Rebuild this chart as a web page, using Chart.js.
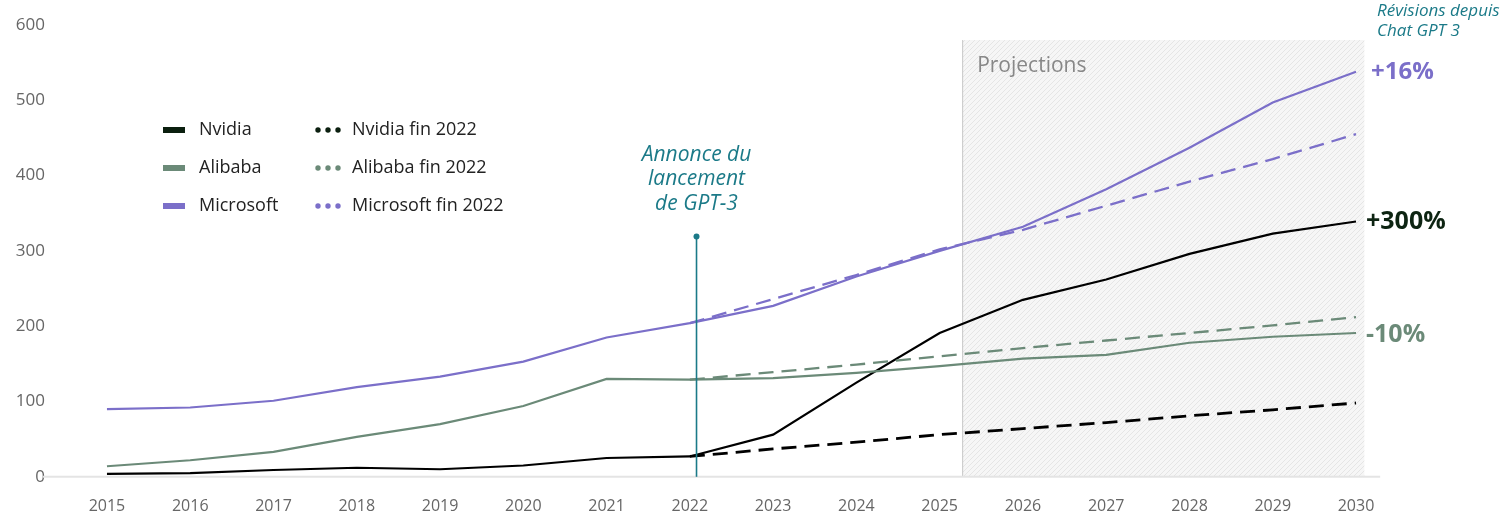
<!DOCTYPE html>
<html>
<head>
<meta charset="utf-8">
<script src="https://cdn.jsdelivr.net/npm/chart.js@4/dist/chart.umd.min.js"></script>
<style>
  html, body { margin: 0; padding: 0; background: #fff; }
  #wrap { width: 1510px; height: 532px; position: relative; }
</style>
</head>
<body>
<div id="wrap"><canvas id="chart" width="1510" height="532"></canvas></div>
<script>
const years = [2015, 2016, 2017, 2018, 2019, 2020, 2021, 2022, 2023, 2024, 2025, 2026, 2027, 2028, 2029, 2030];
const forecastYears = [2022, 2023, 2024, 2025, 2026, 2027, 2028, 2029, 2030];

const nvidia = [4, 5, 9, 12, 10, 15, 25, 27, 56, 125, 191, 235, 262, 296, 323, 339];
const alibaba = [14, 22, 33, 53, 70, 94, 130, 129, 131, 138, 147, 157, 162, 178, 186, 191];
const microsoft = [90, 92, 101, 119, 133, 153, 185, 204, 227, 266, 300, 332, 382, 437, 497, 538];

const nvidiaFin2022 = [27, 37, 46, 56, 64, 72, 81, 89, 98];
const alibabaFin2022 = [129, 139, 149, 160, 171, 181, 191, 201, 212];
const microsoftFin2022 = [204, 236, 268, 302, 328, 360, 392, 422, 455];

const yTicks = [0, 100, 200, 300, 400, 500, 600];
const revisions = ['+16%', '+300%', '-10%'];

const BLACK = '#000000';
const GREEN = '#6b8a78';
const PURPLE = '#7b6fc9';
const TEAL = '#1b7a88';

function pts(xs, ys) {
  return xs.map((x, i) => ({ x: x, y: ys[i] }));
}

// hatched background for the projections block
function hatch() {
  const c = document.createElement('canvas');
  c.width = 5; c.height = 5;
  const g = c.getContext('2d');
  g.fillStyle = '#f6f6f6';
  g.fillRect(0, 0, 5, 5);
  g.strokeStyle = '#dedede';
  g.lineWidth = 0.7;
  g.beginPath();
  g.moveTo(0, 5); g.lineTo(5, 0);
  g.moveTo(-1, 1); g.lineTo(1, -1);
  g.moveTo(4, 6); g.lineTo(6, 4);
  g.stroke();
  return c;
}

const decor = {
  id: 'decor',
  beforeDatasetsDraw(chart) {
    const ctx = chart.ctx;
    const x = chart.scales.x, y = chart.scales.y;
    // projections block
    const x0 = x.getPixelForValue(2025.27), x1 = x.getPixelForValue(2030.1);
    const top = y.getPixelForValue(580), bot = y.getPixelForValue(0);
    ctx.save();
    ctx.fillStyle = ctx.createPattern(hatch(), 'repeat');
    ctx.fillRect(x0, top, x1 - x0, bot - top);
    ctx.strokeStyle = '#c8c8c8';
    ctx.lineWidth = 1;
    ctx.beginPath();
    ctx.moveTo(x0 + 0.5, top); ctx.lineTo(x0 + 0.5, bot);
    ctx.stroke();
    ctx.fillStyle = '#888';
    ctx.font = '500 21px "Open Sans"';
    ctx.textBaseline = 'middle';
    ctx.fillText('Projections', x0 + 15, y.getPixelForValue(546));
    // baseline
    ctx.strokeStyle = '#e4e4e4';
    ctx.lineWidth = 2;
    ctx.beginPath();
    ctx.moveTo(43, bot); ctx.lineTo(x.getPixelForValue(2030.29), bot);
    ctx.stroke();
    ctx.restore();
  },
  afterDatasetsDraw(chart) {
    const ctx = chart.ctx;
    const x = chart.scales.x, y = chart.scales.y;
    ctx.save();
    // GPT-3 marker
    const gx = x.getPixelForValue(2022.08);
    const gt = y.getPixelForValue(319);
    ctx.strokeStyle = TEAL;
    ctx.fillStyle = TEAL;
    ctx.lineWidth = 1.6;
    ctx.beginPath();
    ctx.moveTo(gx, gt); ctx.lineTo(gx, y.getPixelForValue(0));
    ctx.stroke();
    ctx.beginPath();
    ctx.arc(gx, gt, 3, 0, Math.PI * 2);
    ctx.fill();
    ctx.font = 'italic 500 21px "Open Sans"';
    ctx.textAlign = 'center';
    ctx.textBaseline = 'middle';
    ['Annonce du', 'lancement', 'de GPT-3'].forEach((t, i) => ctx.fillText(t, gx, 155 + i * 24.5));

    // revisions
    ctx.textAlign = 'left';
    ctx.font = 'italic 500 17px "Open Sans"';
    ctx.fillText('Révisions depuis', 1377, 11);
    ctx.fillText('Chat GPT 3', 1377, 31);
    ctx.font = 'bold 24px "Open Sans"';
    ctx.fillStyle = PURPLE;
    ctx.fillText(revisions[0], 1371, y.getPixelForValue(538));
    ctx.font = 'bold 25px "Open Sans"';
    ctx.fillStyle = '#0d2412';
    ctx.fillText(revisions[1], 1366, y.getPixelForValue(339));
    ctx.fillStyle = GREEN;
    ctx.fillText(revisions[2], 1366, y.getPixelForValue(188));

    // legend
    const items = [
      ['Nvidia', '#0b1f0f'], ['Alibaba', GREEN], ['Microsoft', PURPLE]
    ];
    ctx.font = '18px "Open Sans"';
    items.forEach((it, i) => {
      const ly = 130 + i * 38;
      ctx.fillStyle = it[1];
      ctx.fillRect(163, ly - 3, 22, 6);
      ctx.fillStyle = '#222';
      ctx.fillText(it[0], 199, ly);
      ctx.fillStyle = it[1];
      for (let k = 0; k < 3; k++) {
        ctx.beginPath();
        ctx.arc(318 + k * 10, ly, 2.7, 0, Math.PI * 2);
        ctx.fill();
      }
      ctx.fillStyle = '#222';
      ctx.fillText(it[0] + ' fin 2022', 352, ly);
    });
    ctx.restore();
  }
};

new Chart(document.getElementById('chart'), {
  type: 'line',
  data: {
    datasets: [
      { label: 'Microsoft fin 2022', data: pts(forecastYears, microsoftFin2022), borderColor: PURPLE, borderWidth: 2.3, borderDash: [15, 8] },
      { label: 'Alibaba fin 2022', data: pts(forecastYears, alibabaFin2022), borderColor: GREEN, borderWidth: 2.3, borderDash: [15, 8] },
      { label: 'Nvidia fin 2022', data: pts(forecastYears, nvidiaFin2022), borderColor: BLACK, borderWidth: 2.8, borderDash: [15, 8] },
      { label: 'Microsoft', data: pts(years, microsoft), borderColor: PURPLE, borderWidth: 2.2 },
      { label: 'Alibaba', data: pts(years, alibaba), borderColor: GREEN, borderWidth: 2.2 },
      { label: 'Nvidia', data: pts(years, nvidia), borderColor: BLACK, borderWidth: 2.2 }
    ]
  },
  options: {
    responsive: false,
    animation: false,
    layout: { padding: { left: 0, right: 130, top: 25, bottom: 4 } },
    elements: { point: { radius: 0 }, line: { tension: 0 } },
    plugins: { legend: { display: false }, tooltip: { enabled: false } },
    scales: {
      x: {
        type: 'linear',
        min: 2014.376,
        max: 2030.288,
        grid: { display: false },
        border: { display: false },
        afterBuildTicks: (s) => { s.ticks = years.map(v => ({ value: v })); },
        ticks: { color: '#666', font: { family: 'Open Sans', size: 16 }, padding: 12, callback: (v) => String(v), maxRotation: 0 }
      },
      y: {
        min: 0,
        max: 600,
        afterFit: (s) => { s.width = 55; },
        afterBuildTicks: (s) => { s.ticks = yTicks.map(v => ({ value: v })); },
        grid: { display: false },
        border: { display: false },
        ticks: { color: '#666', font: { family: 'Open Sans', size: 17 }, padding: 2 }
      }
    }
  },
  plugins: [decor]
});
</script>
</body>
</html>
